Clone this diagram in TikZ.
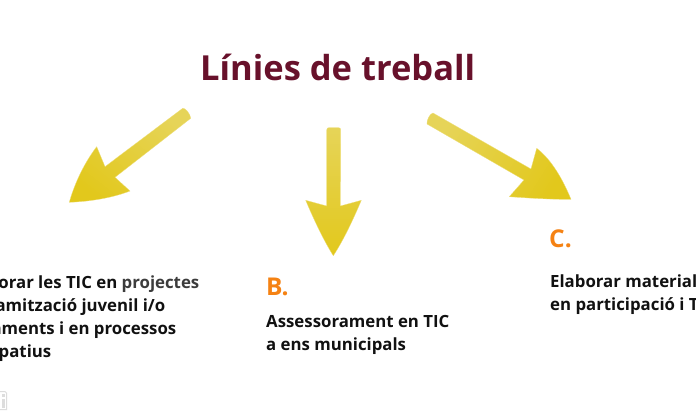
\documentclass[tikz,border=0pt]{standalone}
\usepackage{fontspec}
\setmainfont{Open Sans}
\definecolor{titlecol}{HTML}{68112B}
\definecolor{bodycol}{HTML}{111111}
\definecolor{softcol}{HTML}{3C3C3C}
\definecolor{lettercol}{HTML}{F58213}
\definecolor{taillight}{HTML}{E6D458}
\definecolor{headmid}{HTML}{E4CC30}
\definecolor{headdark}{HTML}{E2C81C}
\definecolor{iconcol}{HTML}{DDDDDD}
\tikzset{
  titletext/.style={inner sep=0pt,anchor=base west,text=titlecol,font=\fontsize{34.5}{40}\selectfont\bfseries},
  letter/.style={inner sep=0pt,anchor=base west,text=lettercol,font=\fontsize{24.5}{28}\selectfont\bfseries},
  bodytext/.style={inner sep=0pt,text=bodycol,font=\fontsize{16.8}{23}\selectfont\bfseries},
  arrowfill/.style={line width=0.3pt,draw=headdark!60!white,line join=round,top color=taillight,middle color=headmid,bottom color=headdark}
}
\begin{document}
\begin{tikzpicture}[x=1pt,y=-1pt]
\useasboundingbox (0,0) rectangle (696,418);
\clip (0,0) rectangle (696,418);
\fill[white] (0,0) rectangle (696,418);
% left arrow
\shade[arrowfill,shading angle=-38]
  (182.7,108.3) .. controls (185,107.5) and (190.5,114) .. (190.7,118.3) -- (115,177.3) -- (130,191)
  .. controls (112,198) and (90,201.5) .. (69.3,202.3)
  .. controls (75,182) and (85,162) .. (96.7,146.7) -- (105,166.7) -- cycle;
% middle arrow
\shade[arrowfill]
  (326.7,130) .. controls (326.7,128) and (328,127.7) .. (329,127.7) -- (338.5,127.7) .. controls (340,127.7) and (340.7,128.5) .. (340.7,130)
  -- (340.4,206) -- (361.3,200.3) .. controls (353,220) and (343,241) .. (333.3,255.7)
  .. controls (324,241) and (314,220) .. (305.7,200.3) -- (326.7,206) -- cycle;
% right arrow
\shade[arrowfill,shading angle=58]
  (433,113) -- (531,169) -- (536.7,148.3)
  .. controls (552,160) and (563,180) .. (571,199.3)
  .. controls (550,199.5) and (528,198) .. (509.3,196.7) -- (524,180) -- (427,124)
  .. controls (426.5,120) and (430,113.5) .. (433,113) -- cycle;
% small mark at the lower left
\draw[iconcol,line width=1pt] (-2,391.5) -- (5,391.5) -- (6.5,393) -- (6.5,409.5) -- (-2,409.5);
\fill[iconcol] (1.5,399) rectangle (4.5,408);
\fill[iconcol] (1.5,394) rectangle (4.5,397);
% texts
\node[titletext] (title) at (200,80) {Línies de treball};
\node[bodytext,anchor=base east] (al) at (199.5,288.5) {orar les TIC en \textcolor{softcol}{projectes}};
\node[bodytext,anchor=base east] (am) at (165.5,311.5) {amització juvenil i/o};
\node[bodytext,anchor=base east] (an) at (176.5,334.5) {aments i en processos};
\node[bodytext,anchor=base east] (ao) at (51.5,357.5) {patius};
\node[letter] (b) at (266,295.5) {B.};
\node[bodytext,anchor=base west] (bl) at (266,327) {Assessorament en TIC};
\node[bodytext,anchor=base west] (bm) at (266,350) {a ens municipals};
\node[letter] (c) at (549,247.5) {C.};
\node[bodytext,anchor=base west] (cl) at (550,287) {Elaborar material};
\node[bodytext,anchor=base west] (cm) at (550,310) {en participació i T};
\end{tikzpicture}
\end{document}
